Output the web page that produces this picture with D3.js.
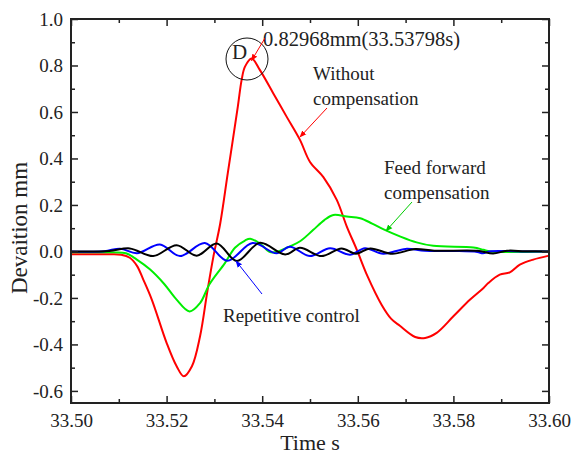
<!DOCTYPE html>
<html>
<head>
<meta charset="utf-8">
<script src="https://cdn.jsdelivr.net/npm/d3@7"></script>
<style>
  html, body { margin: 0; padding: 0; background: #fff; }
</style>
</head>
<body>
<div id="chart"></div>
<script>
// values: [time s, deviation mm]
const withoutComp = [
  [33.500,-0.012],[33.508,-0.012],[33.5105,-0.014],[33.5123,-0.027],[33.5138,-0.062],
  [33.5151,-0.120],[33.5169,-0.207],[33.5200,-0.393],[33.5221,-0.494],[33.5236,-0.537],
  [33.5253,-0.494],[33.5270,-0.365],[33.5285,-0.175],[33.5298,-0.021],[33.5312,0.118],
  [33.5328,0.337],[33.5349,0.623],[33.5357,0.738],[33.5364,0.795],[33.5378,0.830],
  [33.5395,0.781],[33.5423,0.681],[33.5451,0.580],[33.5479,0.480],[33.5500,0.385],
  [33.5528,0.320],[33.5556,0.222],[33.5577,0.107],[33.5598,0.007],[33.5620,-0.105],
  [33.5650,-0.230],[33.5670,-0.290],[33.5688,-0.320],[33.5720,-0.368],[33.5741,-0.372],
  [33.5765,-0.350],[33.5800,-0.279],[33.5835,-0.207],[33.5863,-0.157],[33.5873,-0.136],
  [33.5897,-0.100],[33.5918,-0.090],[33.5939,-0.057],[33.5967,-0.035],[33.6000,-0.018]
];

const feedForward = [
  [33.500,-0.004],[33.509,-0.004],[33.5115,-0.008],[33.5137,-0.034],[33.5165,-0.077],
  [33.5195,-0.140],[33.5220,-0.205],[33.5248,-0.258],[33.5270,-0.222],[33.5290,-0.140],
  [33.5322,-0.050],[33.5343,0.016],[33.5364,0.047],[33.5375,0.055],[33.5398,0.030],
  [33.5415,-0.002],[33.5430,-0.002],[33.5458,0.022],[33.5480,0.045],[33.5507,0.093],
  [33.5530,0.135],[33.5549,0.157],[33.5577,0.150],[33.5605,0.143],[33.5630,0.120],
  [33.5653,0.096],[33.5688,0.065],[33.5723,0.039],[33.5758,0.024],[33.5842,0.017],
  [33.5863,0.007],[33.5877,0.000],[33.6000,0.000]
];

const repetitive = [
  [33.500,0.000],[33.507,0.001],[33.5103,0.012],[33.5138,-0.008],[33.5186,0.030],
  [33.5228,-0.020],[33.5280,0.036],[33.5327,-0.040],[33.5380,0.036],[33.5430,-0.008],
  [33.5458,0.020],[33.5500,-0.020],[33.5542,0.014],[33.5584,-0.014],[33.5615,0.014],
  [33.5653,-0.010],[33.5700,0.011],[33.5740,0.003],[33.5800,0.002],[33.5850,-0.002],
  [33.5862,-0.008],[33.5875,0.000],[33.5900,0.002],[33.5950,0.000],[33.6000,0.000]
];

const blackLine = [
  [33.500,0.000],[33.508,0.002],[33.5123,0.013],[33.5172,-0.020],[33.5221,0.027],
  [33.5263,-0.018],[33.5305,0.034],[33.5347,-0.041],[33.5395,0.037],[33.5448,-0.013],
  [33.5479,0.016],[33.5524,-0.020],[33.5566,0.013],[33.5596,-0.010],[33.5626,0.013],
  [33.5672,-0.010],[33.5720,0.010],[33.5760,0.003],[33.5850,0.003],[33.5883,-0.009],
  [33.5912,0.003],[33.5950,0.001],[33.6000,0.000]
];

const xTicks = [33.50, 33.52, 33.54, 33.56, 33.58, 33.60];
const xMinor = [33.51, 33.53, 33.55, 33.57, 33.59];
const yTicks = [-0.6, -0.4, -0.2, 0.0, 0.2, 0.4, 0.6, 0.8, 1.0];
const yMinor = [-0.5, -0.3, -0.1, 0.1, 0.3, 0.5, 0.7, 0.9];

const peak = [33.53798, 0.82968];

const serif = "'Liberation Serif', 'Times New Roman', Times, serif";
const width = 572, height = 454;
const margin = { left: 71, right: 23, top: 19, bottom: 51 };

const svg = d3.select("#chart").append("svg")
    .attr("width", width)
    .attr("height", height)
    .attr("font-family", serif);

const x = d3.scaleLinear().domain([33.50, 33.60]).range([margin.left, width - margin.right]);
const y = d3.scaleLinear().domain([-0.652, 1.0]).range([height - margin.bottom, margin.top]);

const line = d3.line()
    .x(d => x(d[0]))
    .y(d => y(d[1]))
    .curve(d3.curveCatmullRom.alpha(0.5));

const defs = svg.append("defs");
function marker(id, color) {
  defs.append("marker")
      .attr("id", id)
      .attr("viewBox", "0 0 10 10")
      .attr("refX", 9).attr("refY", 5)
      .attr("markerWidth", 7).attr("markerHeight", 7)
      .attr("markerUnits", "userSpaceOnUse")
      .attr("orient", "auto")
    .append("path")
      .attr("d", "M0,1 L10,5 L0,9 Z")
      .attr("fill", color);
}
marker("arrRed", "#f00");
marker("arrGreen", "#0c0");
marker("arrBlue", "#00f");

// curves
const series = [
  { data: withoutComp, color: "#ff0000" },
  { data: feedForward, color: "#00ee00" },
  { data: repetitive, color: "#0000ff" },
  { data: blackLine, color: "#000000" }
];
svg.append("g")
  .selectAll("path")
  .data(series)
  .join("path")
    .attr("d", d => line(d.data))
    .attr("fill", "none")
    .attr("stroke", d => d.color)
    .attr("stroke-width", 2);

// axes, ticks pointing inward on all four sides
const bottom = height - margin.bottom, right = width - margin.right;

function styleAxis(g) {
  g.attr("font-family", serif).attr("font-size", 19);
  g.select(".domain").remove();
  g.selectAll(".tick line").attr("stroke", "#222").attr("stroke-width", 1.5);
  g.selectAll(".tick text").attr("fill", "#222")
    .text(function () { return this.textContent.replace("−", "-"); });
}

svg.append("g").attr("transform", `translate(0,${bottom})`)
    .call(d3.axisBottom(x).tickValues(xTicks).tickSize(-7).tickPadding(11).tickFormat(d3.format(".2f")))
    .call(styleAxis);
svg.append("g").attr("transform", `translate(0,${bottom})`)
    .call(d3.axisBottom(x).tickValues(xMinor).tickSize(-4).tickFormat(""))
    .call(styleAxis);
svg.append("g").attr("transform", `translate(0,${margin.top})`)
    .call(d3.axisTop(x).tickValues(xTicks).tickSize(-7).tickFormat(""))
    .call(styleAxis);
svg.append("g").attr("transform", `translate(0,${margin.top})`)
    .call(d3.axisTop(x).tickValues(xMinor).tickSize(-4).tickFormat(""))
    .call(styleAxis);

svg.append("g").attr("transform", `translate(${margin.left},0)`)
    .call(d3.axisLeft(y).tickValues(yTicks).tickSize(-7).tickPadding(8).tickFormat(d3.format(".1f")))
    .call(styleAxis);
svg.append("g").attr("transform", `translate(${margin.left},0)`)
    .call(d3.axisLeft(y).tickValues(yMinor).tickSize(-4).tickFormat(""))
    .call(styleAxis);
svg.append("g").attr("transform", `translate(${right},0)`)
    .call(d3.axisRight(y).tickValues(yTicks).tickSize(-7).tickFormat(""))
    .call(styleAxis);
svg.append("g").attr("transform", `translate(${right},0)`)
    .call(d3.axisRight(y).tickValues(yMinor).tickSize(-4).tickFormat(""))
    .call(styleAxis);

svg.append("rect")
    .attr("x", margin.left).attr("y", margin.top)
    .attr("width", right - margin.left).attr("height", bottom - margin.top)
    .attr("fill", "none").attr("stroke", "#222").attr("stroke-width", 2);

// axis titles
svg.append("text")
    .attr("x", (margin.left + right) / 2).attr("y", 450)
    .attr("text-anchor", "middle").attr("font-size", 22).attr("fill", "#222")
    .text("Time s");
svg.append("text")
    .attr("transform", "translate(27,228) rotate(-90)")
    .attr("text-anchor", "middle").attr("font-size", 23).attr("fill", "#222")
    .text("Devaition mm");

// peak annotation
svg.append("circle")
    .attr("cx", 247).attr("cy", 59).attr("r", 21)
    .attr("fill", "none").attr("stroke", "#111").attr("stroke-width", 1);
svg.append("text")
    .attr("x", 232).attr("y", 59).attr("font-size", 21).attr("fill", "#222")
    .text("D");
svg.append("text")
    .attr("x", 263).attr("y", 46).attr("font-size", 20.5).attr("fill", "#222")
    .text(`${peak[1]}mm(${peak[0]}s)`);
svg.append("line")
    .attr("x1", 265).attr("y1", 38).attr("x2", x(peak[0]) - 1).attr("y2", y(peak[1]) + 2)
    .attr("stroke", "#f00").attr("stroke-width", 1).attr("marker-end", "url(#arrRed)");

// series labels
function label(lines, x0, y0, lh) {
  const t = svg.append("text").attr("font-size", 19).attr("fill", "#222");
  lines.forEach((s, i) => t.append("tspan").attr("x", x0).attr("y", y0 + i * lh).text(s));
}
label(["Without", "compensation"], 313, 80, 25);
label(["Feed forward", "compensation"], 384, 174, 25);
label(["Repetitive control"], 223, 322, 0);

function arrow(x1, y1, x2, y2, color, id) {
  svg.append("line")
      .attr("x1", x1).attr("y1", y1).attr("x2", x2).attr("y2", y2)
      .attr("stroke", color).attr("stroke-width", 1)
      .attr("marker-end", `url(#${id})`);
}
arrow(327, 108, 300, 137, "#f00", "arrRed");
arrow(412, 202, 386, 231, "#0c0", "arrGreen");
arrow(262, 294, 236, 261, "#00f", "arrBlue");
</script>
</body>
</html>
